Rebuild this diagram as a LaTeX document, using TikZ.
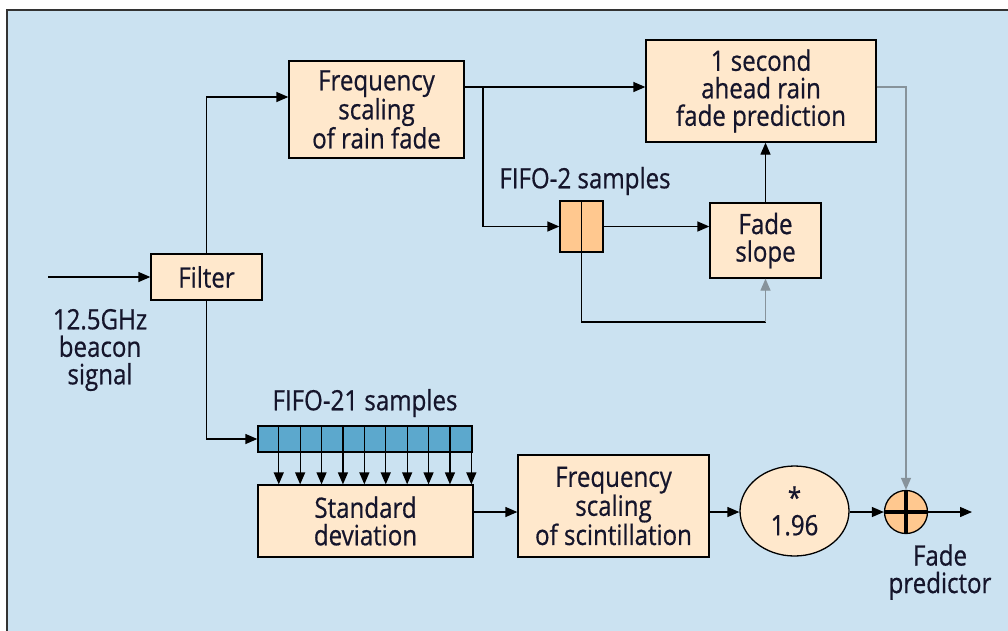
\documentclass[tikz,border=0pt]{standalone}
\usepackage{fontspec}
\setmainfont{Open Sans}[FakeStretch=0.86,FakeBold=0.6]
\usetikzlibrary{arrows.meta,shapes.geometric,calc}
\definecolor{bgblue}{HTML}{CBE2F1}
\definecolor{boxfill}{HTML}{FFE8CC}
\definecolor{orangefill}{HTML}{FFC88F}
\definecolor{cellblue}{HTML}{5CA8CD}
\definecolor{txt}{HTML}{15152B}
\definecolor{lgray}{HTML}{87939B}
\newcommand\dfont{\fontsize{28}{27.5}\selectfont}
\begin{document}
\begin{tikzpicture}[x=1pt,y=-1pt,
  box/.style={draw=black, line width=1.3pt, fill=boxfill, inner sep=0pt, align=center, text=txt, font=\dfont},
  lbl/.style={text=txt, font=\dfont, align=center, inner sep=0pt},
  ar/.style={-{Triangle[length=12pt,width=10pt]}, line width=1.3pt},
  ln/.style={line width=1.3pt}]
\useasboundingbox (0,0) rectangle (1008,630);
\draw[fill=bgblue, draw=black!80, line width=1.5pt] (7,10) rectangle (1030,650);

% nodes
\node[box, minimum width=111pt, minimum height=46pt] (filter) at (206.5,277) {Filter};
\node[box, minimum width=175pt, minimum height=97pt] (rainfs) at (376.5,109.5) {Frequency\\scaling\\of rain fade};
\node[box, minimum width=230pt, minimum height=102pt] (pred) at (761,91) {1 second\\ahead rain\\fade prediction};
\node[draw=black, line width=1.3pt, fill=orangefill, minimum width=43pt, minimum height=51pt, inner sep=0pt] (fifo2) at (581.5,226.5) {};
\node[box, minimum width=111pt, minimum height=75pt] (slope) at (765.5,240.5) {Fade\\slope};
\node[lbl] (l2) at (585,181) {FIFO-2 samples};
\node[draw=black, line width=1.3pt, fill=cellblue, minimum width=214pt, minimum height=26pt, inner sep=0pt] (fifo21) at (365,439) {};
\node[lbl] (l21) at (365,403) {FIFO-21 samples};
\node[box, minimum width=215pt, minimum height=72pt] (std) at (365.5,521) {Standard\\deviation};
\node[box, minimum width=191pt, minimum height=102pt] (scint) at (613.5,506) {Frequency\\scaling\\of scintillation};
\node[box, ellipse, minimum width=109pt, minimum height=90pt] (mul) at (794.5,511) {*\\1.96};
\node[circle, draw=black, line width=1.3pt, fill=orangefill, minimum size=43pt, inner sep=0pt] (sum) at (906,512) {};
\node[lbl] (outlbl) at (940,572) {Fade\\predictor};
\node[lbl] (beacon) at (100,350) {12.5GHz\\beacon\\signal};

% fifo cells
\draw[ln] (fifo2.north) -- (fifo2.south);
\foreach \k in {1,...,9}
  \draw[line width=1.2pt] ($(fifo21.north west)+(\k*21.4,0)$) -- ($(fifo21.south west)+(\k*21.4,0)$);
\draw[line width=3.5pt] (sum.north) -- (sum.south) (sum.west) -- (sum.east);

% coordinates
\coordinate (in) at (48,277);
\coordinate (a1) at (206.5,97);
\coordinate (r87) at (0,87);
\coordinate (br) at (483,87);
\coordinate (lb) at (582,322);
\coordinate (g) at (906,87);
\coordinate (m) at (0,512);
\coordinate (outend) at (972,512);

% connectors
\draw[ar] (in) -- (filter.west);
\draw[ar] (filter.north) -- (a1) -- (rainfs.west |- a1);
\draw[ar] (rainfs.east |- r87) -- (pred.west |- r87);
\draw[ar] (br) |- (fifo2.west);
\draw[ar] (fifo2.east) -- (slope.west |- fifo2.east);
\draw[ar] (slope.north) -- (slope.north |- pred.south);
\draw[ln] (fifo2.south) -- (fifo2.south |- lb) -- (slope.south |- lb);
\draw[ar, lgray] (slope.south |- lb) -- (slope.south);
\draw[ar, lgray] (pred.east |- g) -- (g) -- (sum.north);
\draw[ar] (filter.south) |- (fifo21.west);
\foreach \k in {1,...,10}
  \draw[ar] ($(fifo21.south west)+(\k*21.4,0)$) coordinate (t\k) -- (t\k |- std.north);
\draw[ar] (std.east |- m) -- (scint.west |- m);
\draw[ar] (scint.east |- m) -- (mul.west |- m);
\draw[ar] (mul.east |- m) -- (sum.west);
\draw[ar] (sum.east) -- (outend);
\end{tikzpicture}
\end{document}
